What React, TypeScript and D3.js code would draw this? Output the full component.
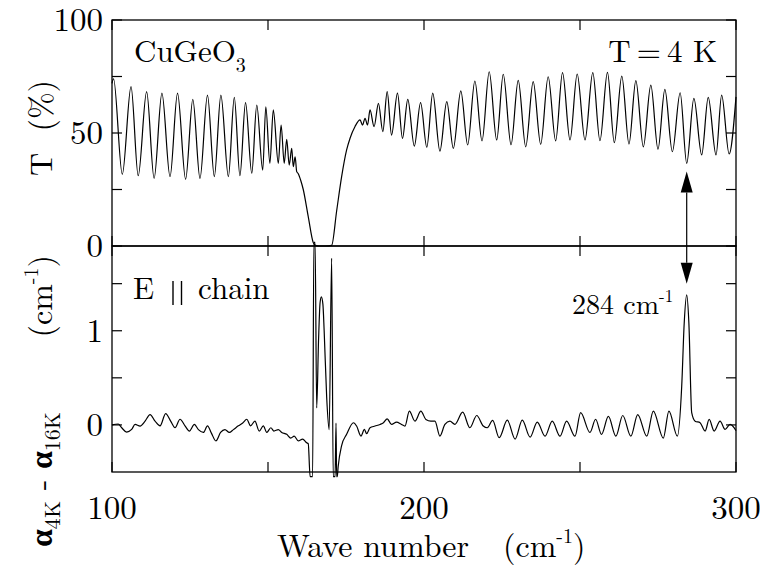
import React from "react";
import * as d3 from "d3";

// ---- Data ----
// Top panel: transmission T (%) vs wave number (cm^-1)
const waveTop = [
  100.0, 100.5, 103.3, 106.1, 108.4, 111.1, 113.5, 116.0, 118.6, 121.0, 123.6, 125.9, 128.2, 130.6, 132.8,
  134.9, 137.3, 139.2, 141.0, 142.8, 144.8, 146.4, 148.3, 149.3, 150.6, 151.7, 153.3, 154.2, 155.2, 156.0,
  156.8, 157.6, 158.1, 158.7, 159.2, 159.7, 160.5, 161.3, 162.9, 164.5, 165.2, 166.5, 168.5, 170.4, 172.0,
  173.6, 175.2, 176.3, 177.9, 179.5, 180.3, 181.1, 181.9, 182.7, 184.0, 185.4, 186.8, 188.2, 189.6, 191.5,
  193.1, 194.8, 196.9, 198.9, 200.9, 202.8, 205.1, 207.3, 209.4, 211.8, 214.0, 216.3, 218.6, 220.9, 223.3,
  225.4, 227.9, 230.2, 232.6, 235.0, 237.4, 239.8, 242.2, 244.4, 246.8, 249.1, 251.6, 254.1, 256.4, 258.8,
  261.0, 263.4, 265.7, 267.9, 270.3, 272.7, 275.0, 277.2, 279.6, 282.1, 284.2, 286.5, 289.0, 291.1, 293.6,
  295.4, 297.8, 300.0,
];
const transTop = [
  72, 74, 31.7, 70.5, 31.1, 68.3, 29.9, 67.6, 30.7, 67.6, 29.5, 64.9, 29.9, 66.8, 30.7,
  66.8, 30.7, 65.8, 31.1, 63.4, 32.2, 62.4, 33.6, 61.6, 36.6, 60.2, 36.6, 53.5, 36.6, 47.2,
  35.8, 43.2, 35.1, 39.5, 32.9, 32, 29, 25, 13, 1.5, 0.3, 0, 0, 0.3, 15.5,
  30.7, 42.5, 47.7, 52.9, 55.8, 53.5, 56.5, 53.5, 60.2, 52.8, 63.1, 50.6, 68.3, 49.1, 67.6,
  47.6, 64.9, 44.2, 63.4, 43.7, 67.6, 42.0, 63.9, 43.2, 68.6, 44.7, 73.0, 46.5, 77.1, 46.9,
  76.0, 44.8, 73.3, 43.9, 72.7, 45.0, 74.9, 46.5, 76.7, 46.9, 76.1, 46.9, 76.7, 46.6, 76.8,
  45.7, 75.2, 45.1, 73.2, 43.9, 71.2, 42.8, 69.3, 41.7, 67.8, 36.6, 65.3, 40.3, 65.8, 40.3,
  66.8, 40.7, 66,
];

// Bottom panel: alpha(4K) - alpha(16K) (cm^-1)
const waveBottom = [
  100.0, 102.0, 103.1, 104.7, 106.3, 107.4, 109.0, 110.6, 112.2, 113.8, 115.4, 117.2, 118.8, 120.2, 121.8,
  123.4, 124.8, 126.4, 127.7, 129.3, 130.6, 131.9, 133.3, 134.8, 136.2, 137.6, 138.9, 140.5, 141.9, 143.2,
  144.4, 145.8, 147.2, 148.5, 149.6, 150.9, 151.9, 153.3, 154.4, 156.0, 157.3, 158.4, 159.7, 161.1, 162.4,
  162.9, 163.5, 164.3, 164.7, 165.1, 165.6, 166.2, 166.7, 167.1, 167.6, 168.0, 168.8, 169.6, 170.4, 170.9,
  171.5, 171.8, 172.0, 172.2, 172.5, 173.6, 175.2, 177.4, 178.4, 179.8, 180.9, 181.6, 182.7, 184.3, 185.9,
  187.0, 188.2, 189.6, 191.2, 192.8, 193.9, 195.3, 197.1, 199.0, 200.6, 202.2, 203.5, 205.1, 206.7, 208.3,
  209.9, 212.4, 214.7, 216.9, 219.0, 220.3, 222.0, 224.1, 226.7, 229.2, 231.5, 234.0, 236.3, 238.8, 241.1,
  243.6, 245.7, 248.4, 250.2, 253.2, 255.0, 256.9, 259.1, 261.5, 263.7, 266.3, 268.5, 271.4, 273.5, 276.7,
  278.5, 281.2, 282.6, 283.4, 284.2, 284.9, 285.8, 286.9, 288.5, 290.1, 291.4, 293.0, 294.9, 296.5, 298.1,
  300.0,
];
const alphaDiff = [
  0.0, 0.01, -0.03, -0.076, -0.048, 0.005, -0.012, 0.04, 0.11, 0.04, -0.01, 0.12, 0.04, -0.03, 0.06,
  -0.01, -0.065, 0.005, -0.05, -0.08, -0.01, -0.09, -0.17, -0.08, -0.05, -0.08, -0.05, -0.01, 0.02, 0.06,
  -0.01, 0.04, -0.065, -0.01, -0.08, -0.03, -0.065, -0.05, -0.08, -0.1, -0.14, -0.12, -0.17, -0.15, -0.19,
  -0.2, -0.55, -0.55, 1.94, 1.94, 0.18, 0.9, 1.3, 1.36, 1.28, 1.0, 0.3, -0.05, 1.77, -0.55,
  -0.55, 0.02, -0.55, -0.55, -0.44, -0.22, -0.1, 0.023, -0.012, -0.118, -0.048, -0.093, -0.03, -0.012, 0.005,
  0.023, 0.065, 0.005, 0.03, 0.005, -0.012, 0.146, 0.04, 0.146, 0.058, 0.04, 0.04, -0.118, 0.005, 0.04,
  0.005, 0.135, -0.03, 0.1, -0.012, -0.03, 0.048, -0.136, 0.05, -0.15, 0.05, -0.13, 0.03, -0.12, 0.04,
  -0.12, 0.04, -0.12, 0.13, -0.08, 0.06, -0.1, 0.09, -0.12, 0.1, -0.12, 0.11, -0.12, 0.146, -0.14,
  0.146, -0.12, 0.41, 1.08, 1.38, 1.08, 0.13, 0.04, 0.023, -0.065, 0.058, -0.065, 0.04, -0.048, 0.005,
  -0.06,
];

const xTicks = [100, 150, 200, 250, 300];
const xTickLabels = [100, 200, 300];
const tTicks = [0, 25, 50, 75, 100];
const tTickLabels = [0, 50, 100];
const aTicks = [0, 0.5, 1, 1.5];
const aTickLabels = [0, 1];
const arrowWave = 284.2;
const arrowTopT = 33; // arrow tip in top panel (T %)
const arrowBottomA = 1.5; // arrow tip in bottom panel (alpha)

const TF: React.CSSProperties = { fontFamily: "'Latin Modern Roman', 'Liberation Serif', serif", whiteSpace: "pre" };

export default function App() {
  const L = 112, R = 736;
  const x = d3.scaleLinear().domain([100, 300]).range([L, R]);
  const yT = d3.scaleLinear().domain([0, 100]).range([246, 20]);
  const yA = d3.scaleLinear().domain([-0.5, 1.9]).range([472, 246]);

  const topData: [number, number][] = waveTop.map((w, i) => [w, transTop[i]]);
  const botData: [number, number][] = waveBottom.map((w, i) => [w, alphaDiff[i]]);

  const lineTop = d3
    .line<[number, number]>()
    .x((d) => x(d[0]))
    .y((d) => yT(d[1]))
    .curve(d3.curveMonotoneX);
  const lineBot = d3
    .line<[number, number]>()
    .x((d) => x(d[0]))
    .y((d) => yA(d[1]))
    .curve(d3.curveMonotoneX);

  const tk = 10;
  const ax = { stroke: "#000", strokeWidth: 1.3, fill: "none" } as const;

  const ax0 = x(arrowWave);
  const tipTop = yT(arrowTopT);
  const tipBot = yA(arrowBottomA);
  const ah = 21, aw = 6;

  return (
    <svg width={760} height={566} style={{ position: "absolute", left: 0, top: 0, background: "#fff" }}>
      <rect x={0} y={0} width={760} height={566} fill="#fff" />
      {/* frames */}
      <rect x={L} y={yT(100)} width={R - L} height={yT(0) - yT(100)} {...ax} />
      <rect x={L} y={yA(1.9)} width={R - L} height={yA(-0.5) - yA(1.9)} {...ax} />

      {/* x ticks: top of top panel, middle (both directions), bottom */}
      {xTicks.map((v) => (
        <g key={"xt" + v} stroke="#000" strokeWidth={1.2}>
          <line x1={x(v)} x2={x(v)} y1={yT(100)} y2={yT(100) + tk} />
          <line x1={x(v)} x2={x(v)} y1={yT(0) - tk} y2={yT(0) + tk} />
          <line x1={x(v)} x2={x(v)} y1={yA(-0.5)} y2={yA(-0.5) - tk} />
        </g>
      ))}
      {/* y ticks top panel */}
      {tTicks.map((v) => (
        <g key={"tt" + v} stroke="#000" strokeWidth={1.2}>
          <line x1={L} x2={L + tk} y1={yT(v)} y2={yT(v)} />
          <line x1={R} x2={R - tk} y1={yT(v)} y2={yT(v)} />
        </g>
      ))}
      {/* y ticks bottom panel */}
      {aTicks.map((v) => (
        <g key={"at" + v} stroke="#000" strokeWidth={1.2}>
          <line x1={L} x2={L + tk} y1={yA(v)} y2={yA(v)} />
          <line x1={R} x2={R - tk} y1={yA(v)} y2={yA(v)} />
        </g>
      ))}

      {/* curves */}
      <path d={lineTop(topData) || ""} fill="none" stroke="#000" strokeWidth={1.2} />
      <path d={lineBot(botData) || ""} fill="none" stroke="#000" strokeWidth={1.2} />

      {/* double arrow */}
      <line x1={ax0} x2={ax0} y1={tipTop + ah} y2={tipBot - ah} stroke="#000" strokeWidth={1.2} />
      <path d={`M${ax0},${tipTop} L${ax0 - aw},${tipTop + ah} L${ax0 + aw},${tipTop + ah} Z`} fill="#000" />
      <path d={`M${ax0},${tipBot} L${ax0 - aw},${tipBot - ah} L${ax0 + aw},${tipBot - ah} Z`} fill="#000" />

      {/* tick labels */}
      {xTickLabels.map((v) => (
        <text key={"xl" + v} x={x(v)} y={519} textAnchor="middle" fontSize={33} style={TF}>
          {v}
        </text>
      ))}
      {tTickLabels.map((v) => (
        <text key={"tl" + v} x={103} y={yT(v) + 11} textAnchor="end" fontSize={33} style={TF}>
          {v}
        </text>
      ))}
      {aTickLabels.map((v) => (
        <text key={"al" + v} x={103} y={yA(v) + 11} textAnchor="end" fontSize={33} style={TF}>
          {v}
        </text>
      ))}

      {/* x axis title */}
      <text x={277} y={557} fontSize={32} style={TF}>Wave number</text>
      <text x={503} y={557} fontSize={32} style={TF}>
        (cm<tspan fontSize={20} dy={-14}>-1</tspan>
        <tspan dy={14}>)</tspan>
      </text>

      {/* y axis titles */}
      <text transform="translate(52,128) rotate(-90)" textAnchor="middle" fontSize={32} style={TF}>
        {"T  (%)"}
      </text>
      <text transform="translate(52,401) rotate(-90)" textAnchor="middle" fontSize={32} style={TF}>
        <tspan fontWeight="bold">α</tspan>
        <tspan fontSize={22} dy={8}>4K</tspan>
        <tspan dy={-8}>{" - "}</tspan>
        <tspan fontWeight="bold">α</tspan>
        <tspan fontSize={22} dy={8}>16K</tspan>
        <tspan dy={-8}>{"       (cm"}</tspan>
        <tspan fontSize={20} dy={-14}>-1</tspan>
        <tspan dy={14}>)</tspan>
      </text>

      {/* annotations */}
      <text x={134} y={62} fontSize={31} style={TF}>
        CuGeO<tspan fontSize={20} dy={10}>3</tspan>
      </text>
      <text x={717} y={62} fontSize={31} textAnchor="end" style={TF}>
        {"T\u2009=\u20094 K"}
      </text>
      <text x={133} y={299} fontSize={31} style={TF}>E</text>
      <line x1={173} x2={173} y1={281} y2={305} stroke="#000" strokeWidth={1.4} />
      <line x1={181.5} x2={181.5} y1={281} y2={305} stroke="#000" strokeWidth={1.4} />
      <text x={198} y={299} fontSize={31} style={TF}>chain</text>
      <text x={572} y={314} fontSize={28} style={TF}>
        284 cm<tspan fontSize={17} dy={-12}>-1</tspan>
      </text>
    </svg>
  );
}
